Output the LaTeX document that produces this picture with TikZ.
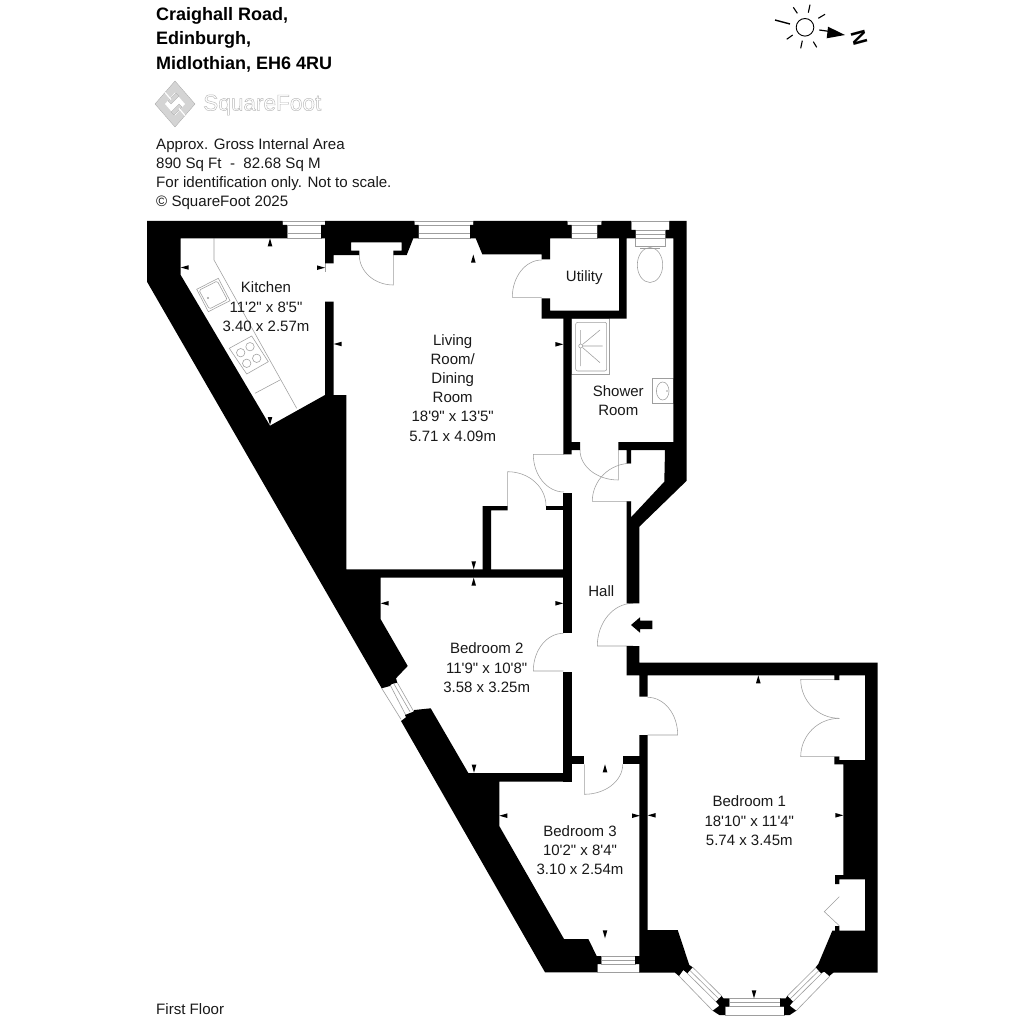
\documentclass[tikz,border=0pt]{standalone}
\usepackage{fontspec}
\usetikzlibrary{calc}
\newfontfamily\lib{Liberation Sans}
\definecolor{fixline}{gray}{0.62}
\definecolor{logogrey}{gray}{0.72}
\newcommand{\swingdoor}[6]{%
  \pgfmathsetmacro\dcx{#1+#3-#5}\pgfmathsetmacro\dcy{#2+#4-#6}%
  \draw[fix] (#5,#6) -- (#1,#2) .. controls ($(#1,#2)!.5523!(\dcx,\dcy)$) and ($(#3,#4)!.5523!(\dcx,\dcy)$) .. (#3,#4);}
\newcommand{\tick}[3]{\fill[black,shift={(#1,#2)},rotate=#3] (0,0)--(8,-2.3)--(8,2.3)--cycle;}
\tikzset{
  fix/.style={draw=fixline,line width=0.55pt},
  glass/.style={draw=fixline,line width=0.6pt},
  wall/.style={fill=black,draw=none},
  room/.style={font=\lib\fontsize{15}{19.2}\selectfont,align=center,inner sep=0pt,text=black!90},
  info/.style={font=\lib\fontsize{15.1}{19.1}\selectfont,align=left,anchor=north west,inner sep=0pt,text=black!90},
  heading/.style={font=\lib\bfseries\fontsize{18}{24.7}\selectfont,align=left,anchor=north west,inner sep=0pt},
}
\begin{document}
\begin{tikzpicture}[x=1pt,y=-1pt]
\useasboundingbox (0,0) rectangle (1024,1024);
\fill[white] (0,0) rectangle (1024,1024);

% ---- header
\node[heading] (title) at (156,7) {Craighall Road,\\Edinburgh,\\Midlothian, EH6 4RU};
\fill[logogrey!60,draw=black!35,line width=0.3pt] (155,104)--(175,81)--(195,104)--(175,127)--cycle;
\fill[white] (165,104)--(175,92.5)--(185,104)--(175,115.5)--cycle;
\fill[logogrey!60,draw=black!35,line width=0.3pt] (168,101)--(176,93)--(179,96)--(171,104)--cycle;
\fill[logogrey!60,draw=black!35,line width=0.3pt] (182,107)--(174,115)--(171,112)--(179,104)--cycle;
\draw[white,line width=1.2pt] (165,92.5)--(171,99.5) (185,115.5)--(179,108.5);
\node[font=\lib\fontsize{22.6}{24}\selectfont,text=logogrey,inner sep=0pt,anchor=west] (brand) at (203,105) {\special{pdf:code 1 Tr 0.45 w}SquareFoot\special{pdf:code 0 Tr}};
\node[info] (area) at (156,138) {Approx. Gross Internal Area\\890 Sq Ft~~-~~82.68 Sq M\\For identification only. Not to scale.\\\textcopyright{} SquareFoot 2025};
\node[font=\lib\fontsize{15.1}{17}\selectfont,anchor=west,inner sep=0pt,text=black!90] (floor) at (156,1009) {First Floor};

% ---- compass
\draw[black,line width=0.9pt] (805,27.3) circle (8.8);
\draw[black,line width=1.4pt] (775,20)--(790,24);
\draw[black,line width=1.1pt] (793.3,7.3)--(797.3,13.3) (810,4.7)--(808.3,12.7) (825,14.3)--(818.3,18.3)
  (813.3,41.7)--(816.7,47.3) (802.3,40.7)--(800.7,48.3) (786.7,39.3)--(792.7,35);
\draw[black,line width=1.2pt] (819.3,30)--(830,31.5);
\fill[black] (845,35)--(828,26.7)--(826.7,38.3)--cycle;
\node[font=\lib\bfseries\fontsize{20.5}{22}\selectfont,rotate=-75,inner sep=0pt] (north) at (859,38.3) {N};

% ---- windows
\draw[glass] (282.7,221) rectangle (325,225) (287,225) rectangle (321,238.3) (287,233)--(321,233);
\draw[glass] (414.3,221) rectangle (473.3,225) (418.5,225) rectangle (470,238.3) (418.5,233)--(470,233);
\draw[glass] (567.3,221) rectangle (601.7,225) (571.7,225) rectangle (597.3,238.3) (571.7,233)--(597.3,233);
\draw[glass] (631,221) rectangle (669.3,230) (635.7,230) rectangle (665.7,238.3) (635.7,234)--(665.7,234);
\draw[glass] (597.3,956) rectangle (639.3,972.3) (601,956) rectangle (635,964) (601,960)--(635,960);
\draw[glass] (381.7,688.3)--(401,719.3) (390.7,686)--(405.7,715) (394,684)--(410,711.7) (397.3,682.7)--(413.3,710.7);
\draw[glass] (725,1015) rectangle (784,1006.7) (729,1006.7) rectangle (780,998.3) (729,1002.7)--(780,1002.7);
\draw[glass] (679,976)--(712.7,1010.7) (687.3,973.3)--(716,1001.7) (690,970.5)--(719,999) (692.7,967.3)--(721.7,996);
\draw[glass] (830,976)--(796.3,1010.7) (821.7,973.3)--(793,1001.7) (819,970.5)--(790,999) (816.3,967.3)--(787.3,996);

% ---- doors
\swingdoor{393.3}{285}{359.3}{255}{393.3}{255}
\swingdoor{512.3}{297.3}{541.7}{260}{541.7}{297.3}
\swingdoor{533.3}{454.3}{564}{492}{564}{454.3}
\swingdoor{507.7}{471.7}{546}{506}{507.7}{506}
\swingdoor{618.3}{480}{580}{450}{618.3}{450}
\swingdoor{592.3}{501.3}{631}{463.3}{631}{501.3}
\swingdoor{597.3}{646}{633}{603.3}{633}{646}
\swingdoor{533.3}{671}{563.3}{633.3}{563.3}{671}
\swingdoor{677.7}{735}{647.7}{697.3}{647.7}{735}
\swingdoor{584.3}{794.3}{622.7}{764.3}{584.3}{764.3}
\swingdoor{800.7}{679.3}{839.3}{718.3}{839.3}{679.3}
\swingdoor{800.7}{756.7}{839.3}{718.3}{839.3}{756.7}
\draw[fix] (839.3,896.7)--(824.3,911.7)--(839.3,925.7);
\draw[fix] (325,263)--(325,272);

% ---- fixtures
\draw[fix] (214,238.3)--(214,260)--(296.7,408.3);
\draw[fix] (196.7,289.3)--(218.3,278.3)--(230,300.7)--(208.3,311.7)--cycle;
\draw[fix,rounded corners=1.5pt] (199,290.3)--(217.3,281)--(227.3,299.7)--(209.3,309)--cycle;
\draw[fix] (208,298) circle (0.8);
\draw[fix] (229.3,348.3)--(251.7,336)--(268.3,361.7)--(246.7,374)--cycle;
\draw[fix] (240.7,352.7) circle (4.2) (250,346.7) circle (4.2) (256.7,358.3) circle (4.2) (246.7,363.3) circle (4.2);
\draw[fix] (255,393.3)--(280,380);
\draw[fix] (571.7,318.7) rectangle (609.3,374.3);
\draw[fix,rounded corners=2pt] (575.7,322.3) rectangle (606.7,371);
\draw[fix] (580.7,346) circle (2);
\draw[fix] (582.5,344.5)--(600,330) (582.8,346)--(602.7,346) (582.5,347.5)--(600,362.7) (580.7,330)--(580.7,344) (580.7,348)--(580.7,366);
\draw[fix] (652.3,378.7) rectangle (673.3,403.3);
\draw[fix] (662.7,391) ellipse (6.3 and 9);
\fill[fixline] (667,391) circle (0.8);
\draw[fix] (635.7,238.3) rectangle (665.7,246);
\draw[fix] (650,265) ellipse (12.7 and 17.5);
\draw[fix] (640,248.5)--(660,248.5);

% ---- walls
\fill[wall] (147,221)--(282.7,221)--(282.7,225)--(287,225)--(287,238.3)--(180.7,238.3)--(180.7,275)--(270,425.7)--(325,395)--(325,301.7)--(333.7,301.7)--(333.7,395)--(346.3,395)--(346.3,569.3)--(571.7,569.3)--(571.7,577.7)--(380.7,577.7)--(380.7,619.3)--(407.7,666)--(396,678.3)--(397.3,682.7)--(391.7,684)--(390,686)--(381.7,688.3)--(147,281.7)--cycle;
\fill[wall] (325,221)--(414.3,221)--(414.3,225)--(418.7,225)--(418.7,238.3)--(413.3,238.3)--(406.7,255)--(393.3,255)--(393.3,250.7)--(401.7,250.7)--(401.7,242.3)--(351,242.3)--(351,250.7)--(359.3,250.7)--(359.3,255)--(333.7,255)--(333.7,263.3)--(325,263.3)--(325,238.3)--(321,238.3)--(321,225)--(325,225)--cycle;
\fill[wall] (473.3,221)--(567.3,221)--(567.3,225)--(571.7,225)--(571.7,238.3)--(550,238.3)--(550,259.3)--(541.7,259.3)--(541.7,254.3)--(482.3,254.3)--(475.7,238.3)--(470,238.3)--(470,225)--(473.3,225)--cycle;
\fill[wall] (601.7,221)--(631,221)--(631,230)--(635.7,230)--(635.7,238.3)--(626.7,238.3)--(626.7,318.7)--(541.7,318.7)--(541.7,298.3)--(550,298.3)--(550,310.7)--(619,310.7)--(619,238.3)--(597.3,238.3)--(597.3,225)--(601.7,225)--cycle;
\fill[wall] (669.3,221)--(686.7,221)--(686.7,480.7)--(639.3,526.7)--(639.3,603.3)--(626.7,603.3)--(626.7,501.3)--(631,501.3)--(631,517.3)--(664.3,481.7)--(665,450)--(631,450)--(631,463.3)--(626.7,463.3)--(626.7,450)--(618.3,450)--(618.3,442)--(673.3,442)--(673.3,238.3)--(665.7,238.3)--(665.7,230)--(669.3,230)--cycle;
\fill[wall] (563.3,318)--(571.7,318)--(571.7,442)--(580,442)--(580,450)--(571.7,450)--(571.7,454.3)--(563.3,454.3)--cycle;
\fill[wall] (563.3,492.7)--(571.7,492.7)--(571.7,632.7)--(563.3,632.7)--cycle;
\fill[wall] (482.7,506)--(507.7,506)--(507.7,510.3)--(491,510.3)--(491,570)--(482.7,570)--cycle;
\fill[wall] (546,506)--(563.3,506)--(563.3,510.3)--(546,510.3)--cycle;
\fill[wall] (563.3,671.7)--(571.7,671.7)--(571.7,781.7)--(563.3,781.7)--cycle;
\fill[wall] (401,721)--(406,717.3)--(405,715)--(413.3,711.7)--(414.3,710)--(430.7,708.3)--(468.3,773)--(565,773)--(565,781.7)--(499.3,781.7)--(499.3,826)--(564,939)--(588.3,939)--(596.7,956)--(601,956)--(601,964)--(597.3,964)--(597.3,972.3)--(545,972.3)--cycle;
\fill[wall] (571,756)--(584.3,756)--(584.3,764.3)--(571,764.3)--cycle;
\fill[wall] (622.7,756)--(640,756)--(640,764.3)--(622.7,764.3)--cycle;
% bedroom 1 walls and bay
\fill[wall] (626.7,646)--(639.3,646)--(639.3,662.7)--(877.7,662.7)--(877.7,972.7)--(833.3,972.7)--(829.3,976)--(824.3,971.7)--(821,973.3)--(815.7,967.3)--(818.3,964)--(832.3,930.7)--(835,930.7)--(835,926)--(839.3,926)--(839.3,930.7)--(865,930.7)--(865,879.3)--(839.3,879.3)--(839.3,884)--(835,884)--(835,875)--(843.3,875)--(843.3,764.3)--(834.3,764.3)--(834.3,756.7)--(839.3,756.7)--(839.3,760)--(865,760)--(865,675.3)--(839.3,675.3)--(839.3,680)--(834.3,680)--(834.3,675.3)--(647.7,675.3)--(647.7,696.7)--(639.3,696.7)--(639.3,675.3)--(626.7,675.3)--cycle;
\fill[wall] (639.3,735)--(647.7,735)--(647.7,930)--(677.7,930)--(689.3,965)--(692.7,967.3)--(687.3,973.3)--(683.3,970)--(679,976)--(675,972.7)--(639.3,972.7)--(639.3,964)--(635,964)--(635,956)--(639.3,956)--cycle;
\fill[wall] (721.7,996)--(716,1001.7)--(719.3,1005.7)--(712.7,1010.7)--(719.3,1015)--(725,1015)--(725,1006.7)--(729,1006.7)--(729,998.3)--(723.3,998.3)--cycle;
\fill[wall] (787.3,996)--(793,1001.7)--(789.7,1005.7)--(796.3,1010.7)--(789.7,1015)--(784,1015)--(784,1006.7)--(780,1006.7)--(780,998.3)--(785.7,998.3)--cycle;

% ---- entrance arrow
\fill[black] (631,625)--(640,617.3)--(640,620.7)--(652.3,620.7)--(652.3,629)--(640,629)--(640,632.7)--cycle;

% ---- dimension ticks
\tick{180.7}{267.5}{0}\tick{325}{267.7}{180}\tick{270}{238.3}{-90}\tick{270}{425}{90}
\tick{473.3}{254.5}{-90}\tick{333.7}{344}{0}\tick{563.3}{344.3}{180}\tick{473.7}{569.3}{90}
\tick{473.7}{577.7}{-90}\tick{380.7}{603.3}{0}\tick{563.3}{603.3}{180}\tick{474}{772.7}{90}
\tick{499.3}{815.7}{0}\tick{640}{815.7}{180}\tick{605}{764.3}{-90}\tick{605}{938.3}{90}
\tick{647.7}{815.3}{0}\tick{843.3}{815.3}{180}\tick{758.3}{675.3}{-90}\tick{754}{998.3}{90}

% ---- room labels
\node[room] (kitchen) at (266,306.7) {Kitchen\\11'2" x 8'5"\\3.40 x 2.57m};
\node[room] (living) at (452.7,387.7) {Living\\Room/\\Dining\\Room\\18'9" x 13'5"\\5.71 x 4.09m};
\node[room] (utility) at (584.3,277.3) {Utility};
\node[room] (shower) at (618.3,400.3) {Shower\\Room};
\node[room] (hall) at (601.3,591.3) {Hall};
\node[room] (bed2) at (486.7,667.7) {Bedroom 2\\11'9" x 10'8"\\3.58 x 3.25m};
\node[room] (bed3) at (580,850) {Bedroom 3\\10'2" x 8'4"\\3.10 x 2.54m};
\node[room] (bed1) at (749.3,820.7) {Bedroom 1\\18'10" x 11'4"\\5.74 x 3.45m};
\end{tikzpicture}
\end{document}
